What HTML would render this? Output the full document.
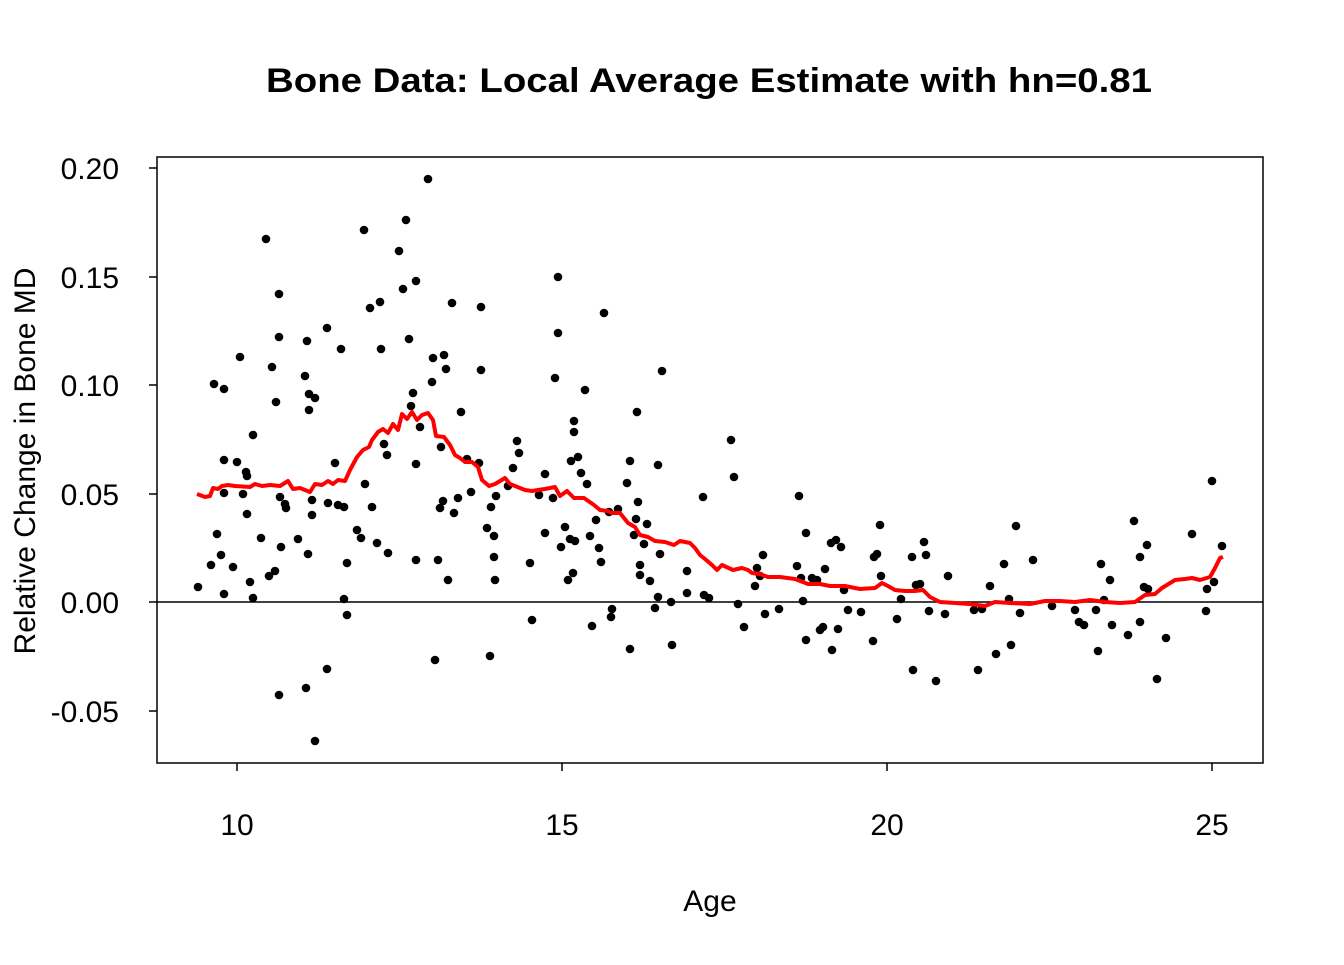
<!DOCTYPE html>
<html><head><meta charset="utf-8"><style>html,body{margin:0;padding:0;background:#fff}</style></head><body>
<svg width="1344" height="960" viewBox="0 0 1344 960" xmlns="http://www.w3.org/2000/svg" font-family="Liberation Sans, Arial, sans-serif">
<rect width="1344" height="960" fill="#fff"/>
<text x="266" y="92" font-size="34" font-weight="bold" textLength="886" lengthAdjust="spacingAndGlyphs">Bone Data: Local Average Estimate with hn=0.81</text>
<rect x="157" y="157" width="1106" height="606" fill="none" stroke="#000" stroke-width="1.5"/>
<line x1="157" y1="602" x2="1263" y2="602" stroke="#000" stroke-width="1.5"/>
<g stroke="#000" stroke-width="1.5">
<line x1="237" y1="763" x2="237" y2="771"/><line x1="562" y1="763" x2="562" y2="771"/><line x1="887" y1="763" x2="887" y2="771"/><line x1="1212" y1="763" x2="1212" y2="771"/>
<line x1="157" y1="168" x2="149" y2="168"/><line x1="157" y1="277" x2="149" y2="277"/><line x1="157" y1="385" x2="149" y2="385"/><line x1="157" y1="494" x2="149" y2="494"/><line x1="157" y1="602" x2="149" y2="602"/><line x1="157" y1="711" x2="149" y2="711"/>
</g>
<g font-size="30" text-anchor="middle">
<text x="237" y="835">10</text><text x="562" y="835">15</text><text x="887" y="835">20</text><text x="1212" y="835">25</text>
<text x="710" y="911">Age</text>
</g>
<g font-size="30" text-anchor="end">
<text x="119" y="179">0.20</text><text x="119" y="288">0.15</text><text x="119" y="396">0.10</text><text x="119" y="505">0.05</text><text x="119" y="613">0.00</text><text x="119" y="722">-0.05</text>
</g>
<text transform="translate(35,461) rotate(-90)" font-size="30" text-anchor="middle">Relative Change in Bone MD</text>
<g fill="#000">
<circle cx="198" cy="587" r="4.3"/><circle cx="211" cy="565" r="4.3"/><circle cx="214" cy="384" r="4.3"/><circle cx="217" cy="534" r="4.3"/><circle cx="221" cy="555" r="4.3"/><circle cx="224" cy="389" r="4.3"/><circle cx="224" cy="460" r="4.3"/><circle cx="224" cy="594" r="4.3"/><circle cx="224" cy="493" r="4.3"/><circle cx="233" cy="567" r="4.3"/>
<circle cx="237" cy="462" r="4.3"/><circle cx="240" cy="357" r="4.3"/><circle cx="243" cy="494" r="4.3"/><circle cx="246" cy="472" r="4.3"/><circle cx="247" cy="514" r="4.3"/><circle cx="247" cy="476" r="4.3"/><circle cx="250" cy="582" r="4.3"/><circle cx="253" cy="598" r="4.3"/><circle cx="253" cy="435" r="4.3"/><circle cx="261" cy="538" r="4.3"/>
<circle cx="266" cy="239" r="4.3"/><circle cx="269" cy="576" r="4.3"/><circle cx="272" cy="367" r="4.3"/><circle cx="275" cy="571" r="4.3"/><circle cx="276" cy="402" r="4.3"/><circle cx="279" cy="294" r="4.3"/><circle cx="279" cy="337" r="4.3"/><circle cx="280" cy="497" r="4.3"/><circle cx="281" cy="547" r="4.3"/><circle cx="279" cy="695" r="4.3"/>
<circle cx="285" cy="504" r="4.3"/><circle cx="286" cy="508" r="4.3"/><circle cx="298" cy="539" r="4.3"/><circle cx="305" cy="376" r="4.3"/><circle cx="306" cy="688" r="4.3"/><circle cx="307" cy="341" r="4.3"/><circle cx="308" cy="554" r="4.3"/><circle cx="309" cy="394" r="4.3"/><circle cx="309" cy="410" r="4.3"/><circle cx="312" cy="500" r="4.3"/>
<circle cx="312" cy="515" r="4.3"/><circle cx="315" cy="398" r="4.3"/><circle cx="315" cy="741" r="4.3"/><circle cx="327" cy="328" r="4.3"/><circle cx="327" cy="669" r="4.3"/><circle cx="328" cy="503" r="4.3"/><circle cx="335" cy="463" r="4.3"/><circle cx="338" cy="505" r="4.3"/><circle cx="341" cy="349" r="4.3"/><circle cx="344" cy="507" r="4.3"/>
<circle cx="344" cy="599" r="4.3"/><circle cx="347" cy="615" r="4.3"/><circle cx="347" cy="563" r="4.3"/><circle cx="357" cy="530" r="4.3"/><circle cx="361" cy="538" r="4.3"/><circle cx="364" cy="230" r="4.3"/><circle cx="365" cy="484" r="4.3"/><circle cx="370" cy="308" r="4.3"/><circle cx="372" cy="507" r="4.3"/><circle cx="377" cy="543" r="4.3"/>
<circle cx="380" cy="302" r="4.3"/><circle cx="381" cy="349" r="4.3"/><circle cx="384" cy="444" r="4.3"/><circle cx="387" cy="455" r="4.3"/><circle cx="388" cy="553" r="4.3"/><circle cx="399" cy="251" r="4.3"/><circle cx="403" cy="289" r="4.3"/><circle cx="406" cy="220" r="4.3"/><circle cx="409" cy="339" r="4.3"/><circle cx="411" cy="406" r="4.3"/>
<circle cx="413" cy="393" r="4.3"/><circle cx="416" cy="560" r="4.3"/><circle cx="416" cy="464" r="4.3"/><circle cx="416" cy="281" r="4.3"/><circle cx="420" cy="427" r="4.3"/><circle cx="428" cy="179" r="4.3"/><circle cx="432" cy="382" r="4.3"/><circle cx="433" cy="358" r="4.3"/><circle cx="435" cy="660" r="4.3"/><circle cx="438" cy="560" r="4.3"/>
<circle cx="440" cy="508" r="4.3"/><circle cx="441" cy="447" r="4.3"/><circle cx="443" cy="501" r="4.3"/><circle cx="444" cy="355" r="4.3"/><circle cx="446" cy="369" r="4.3"/><circle cx="448" cy="580" r="4.3"/><circle cx="452" cy="303" r="4.3"/><circle cx="454" cy="513" r="4.3"/><circle cx="458" cy="498" r="4.3"/><circle cx="461" cy="412" r="4.3"/>
<circle cx="467" cy="459" r="4.3"/><circle cx="471" cy="492" r="4.3"/><circle cx="479" cy="463" r="4.3"/><circle cx="481" cy="307" r="4.3"/><circle cx="481" cy="370" r="4.3"/><circle cx="487" cy="528" r="4.3"/><circle cx="490" cy="656" r="4.3"/><circle cx="491" cy="507" r="4.3"/><circle cx="494" cy="557" r="4.3"/><circle cx="494" cy="536" r="4.3"/>
<circle cx="495" cy="580" r="4.3"/><circle cx="496" cy="496" r="4.3"/><circle cx="508" cy="486" r="4.3"/><circle cx="513" cy="468" r="4.3"/><circle cx="517" cy="441" r="4.3"/><circle cx="519" cy="453" r="4.3"/><circle cx="530" cy="563" r="4.3"/><circle cx="532" cy="620" r="4.3"/><circle cx="539" cy="495" r="4.3"/><circle cx="545" cy="474" r="4.3"/>
<circle cx="545" cy="533" r="4.3"/><circle cx="553" cy="498" r="4.3"/><circle cx="555" cy="378" r="4.3"/><circle cx="558" cy="277" r="4.3"/><circle cx="558" cy="333" r="4.3"/><circle cx="561" cy="547" r="4.3"/><circle cx="565" cy="527" r="4.3"/><circle cx="568" cy="580" r="4.3"/><circle cx="570" cy="539" r="4.3"/><circle cx="571" cy="461" r="4.3"/>
<circle cx="573" cy="573" r="4.3"/><circle cx="574" cy="421" r="4.3"/><circle cx="574" cy="432" r="4.3"/><circle cx="575" cy="541" r="4.3"/><circle cx="578" cy="457" r="4.3"/><circle cx="581" cy="473" r="4.3"/><circle cx="585" cy="390" r="4.3"/><circle cx="587" cy="484" r="4.3"/><circle cx="590" cy="536" r="4.3"/><circle cx="592" cy="626" r="4.3"/>
<circle cx="596" cy="520" r="4.3"/><circle cx="599" cy="548" r="4.3"/><circle cx="601" cy="562" r="4.3"/><circle cx="604" cy="313" r="4.3"/><circle cx="609" cy="512" r="4.3"/><circle cx="611" cy="617" r="4.3"/><circle cx="612" cy="609" r="4.3"/><circle cx="618" cy="509" r="4.3"/><circle cx="627" cy="483" r="4.3"/><circle cx="630" cy="461" r="4.3"/>
<circle cx="630" cy="649" r="4.3"/><circle cx="634" cy="535" r="4.3"/><circle cx="636" cy="519" r="4.3"/><circle cx="637" cy="412" r="4.3"/><circle cx="638" cy="502" r="4.3"/><circle cx="640" cy="565" r="4.3"/><circle cx="640" cy="575" r="4.3"/><circle cx="644" cy="544" r="4.3"/><circle cx="647" cy="524" r="4.3"/><circle cx="650" cy="581" r="4.3"/>
<circle cx="655" cy="608" r="4.3"/><circle cx="658" cy="597" r="4.3"/><circle cx="658" cy="465" r="4.3"/><circle cx="660" cy="554" r="4.3"/><circle cx="662" cy="371" r="4.3"/><circle cx="671" cy="602" r="4.3"/><circle cx="672" cy="645" r="4.3"/><circle cx="687" cy="571" r="4.3"/><circle cx="687" cy="593" r="4.3"/><circle cx="703" cy="497" r="4.3"/>
<circle cx="704" cy="595" r="4.3"/><circle cx="709" cy="598" r="4.3"/><circle cx="731" cy="440" r="4.3"/><circle cx="734" cy="477" r="4.3"/><circle cx="738" cy="604" r="4.3"/><circle cx="744" cy="627" r="4.3"/><circle cx="755" cy="586" r="4.3"/><circle cx="757" cy="568" r="4.3"/><circle cx="760" cy="576" r="4.3"/><circle cx="763" cy="555" r="4.3"/>
<circle cx="765" cy="614" r="4.3"/><circle cx="779" cy="609" r="4.3"/><circle cx="797" cy="566" r="4.3"/><circle cx="799" cy="496" r="4.3"/><circle cx="801" cy="578" r="4.3"/><circle cx="803" cy="601" r="4.3"/><circle cx="806" cy="533" r="4.3"/><circle cx="806" cy="640" r="4.3"/><circle cx="812" cy="578" r="4.3"/><circle cx="817" cy="580" r="4.3"/>
<circle cx="820" cy="630" r="4.3"/><circle cx="823" cy="627" r="4.3"/><circle cx="825" cy="569" r="4.3"/><circle cx="831" cy="543" r="4.3"/><circle cx="832" cy="650" r="4.3"/><circle cx="836" cy="540" r="4.3"/><circle cx="838" cy="629" r="4.3"/><circle cx="841" cy="547" r="4.3"/><circle cx="844" cy="590" r="4.3"/><circle cx="848" cy="610" r="4.3"/>
<circle cx="861" cy="612" r="4.3"/><circle cx="873" cy="641" r="4.3"/><circle cx="874" cy="557" r="4.3"/><circle cx="877" cy="554" r="4.3"/><circle cx="880" cy="525" r="4.3"/><circle cx="881" cy="576" r="4.3"/><circle cx="897" cy="619" r="4.3"/><circle cx="901" cy="599" r="4.3"/><circle cx="912" cy="557" r="4.3"/><circle cx="913" cy="670" r="4.3"/>
<circle cx="916" cy="585" r="4.3"/><circle cx="920" cy="584" r="4.3"/><circle cx="924" cy="542" r="4.3"/><circle cx="926" cy="555" r="4.3"/><circle cx="929" cy="611" r="4.3"/><circle cx="936" cy="681" r="4.3"/><circle cx="945" cy="614" r="4.3"/><circle cx="948" cy="576" r="4.3"/><circle cx="974" cy="610" r="4.3"/><circle cx="978" cy="670" r="4.3"/>
<circle cx="982" cy="609" r="4.3"/><circle cx="990" cy="586" r="4.3"/><circle cx="996" cy="654" r="4.3"/><circle cx="1004" cy="564" r="4.3"/><circle cx="1009" cy="599" r="4.3"/><circle cx="1011" cy="645" r="4.3"/><circle cx="1016" cy="526" r="4.3"/><circle cx="1020" cy="613" r="4.3"/><circle cx="1033" cy="560" r="4.3"/><circle cx="1052" cy="606" r="4.3"/>
<circle cx="1075" cy="610" r="4.3"/><circle cx="1079" cy="622" r="4.3"/><circle cx="1084" cy="625" r="4.3"/><circle cx="1096" cy="610" r="4.3"/><circle cx="1098" cy="651" r="4.3"/><circle cx="1101" cy="564" r="4.3"/><circle cx="1104" cy="600" r="4.3"/><circle cx="1110" cy="580" r="4.3"/><circle cx="1112" cy="625" r="4.3"/><circle cx="1128" cy="635" r="4.3"/>
<circle cx="1134" cy="521" r="4.3"/><circle cx="1140" cy="557" r="4.3"/><circle cx="1140" cy="622" r="4.3"/><circle cx="1144" cy="587" r="4.3"/><circle cx="1147" cy="545" r="4.3"/><circle cx="1148" cy="589" r="4.3"/><circle cx="1157" cy="679" r="4.3"/><circle cx="1166" cy="638" r="4.3"/><circle cx="1192" cy="534" r="4.3"/><circle cx="1206" cy="611" r="4.3"/>
<circle cx="1207" cy="589" r="4.3"/><circle cx="1212" cy="481" r="4.3"/><circle cx="1214" cy="582" r="4.3"/><circle cx="1222" cy="546" r="4.3"/>
</g>
<polyline fill="none" stroke="#f00" stroke-width="4" stroke-linejoin="round" points="197,494 205,497 210,496 213,488 218,489 222,486 228,485 235,486 250,487 255,484 262,486 270,485 280,486 288,481 293,489 300,488 310,492 315,484 322,485 328,481 333,484 338,480 345,481 350,470 357,457 363,450 369,447 372,440 378,432 383,429 388,433 393,424 398,430 402,414 407,419 412,412 417,420 422,415 428,413 433,420 436,436 444,437 450,445 455,455 460,458 465,462 472,462 478,467 482,480 489,486 495,484 505,478 510,484 515,486 520,488 525,490 532,491 538,490 545,489 550,488 555,487 560,496 567,491 574,498 584,498 594,505 600,510 608,511 612,513 620,513 628,523 635,527 640,535 648,537 655,541 665,542 674,545 680,541 690,543 695,548 700,555 705,559 712,565 717,570 722,565 733,570 742,568 748,570 752,573 760,574 768,577 780,577 795,579 808,584 820,584 830,586 845,586 860,589 875,588 882,583 888,586 895,590 905,591 915,591 923,590 930,597 940,602 955,603 970,604 985,606 995,602 1010,603 1030,604 1045,601 1060,601 1075,602 1090,600 1105,602 1120,603 1135,602 1145,595 1155,594 1162,588 1175,580 1185,579 1192,578 1200,580 1210,577 1215,568 1220,558 1223,557"/>
</svg>
</body></html>
